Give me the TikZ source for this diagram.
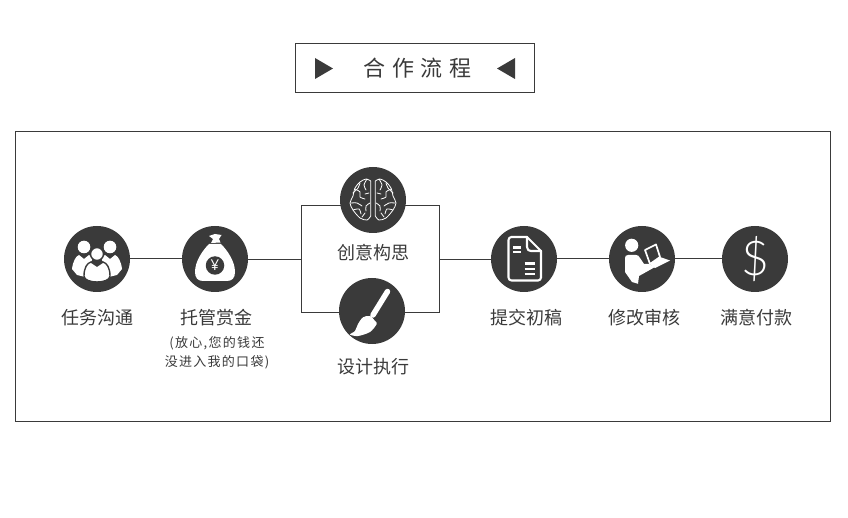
\documentclass[tikz,border=0pt]{standalone}
\usepackage{fontspec}
\setmainfont{Noto Sans CJK SC}
\newfontfamily\titlefont[LetterSpace=30]{Noto Sans CJK SC}
\newfontfamily\notefont[LetterSpace=10]{Noto Sans CJK SC}
\newfontfamily\signfont[UprightFont=* Light]{Lato}
\newfontfamily\yenfont{Open Sans}
\definecolor{ink}{HTML}{3A3A3A}
\tikzset{
  stepdot/.style={circle,fill=ink,minimum size=66pt,inner sep=0pt},
  steptext/.style={text=ink,font=\fontsize{18pt}{20pt}\selectfont,inner sep=0pt},
  notetext/.style={text=ink,font=\fontsize{13pt}{16pt}\selectfont\notefont,inner sep=0pt},
  whitefill/.style={fill=white,draw=none},
  whiteline/.style={draw=white,fill=none,line width=0.8pt,line cap=round,line join=round},
  wideline/.style={draw=white,fill=none,line width=2.1pt,line cap=round,line join=round},
  frameline/.style={draw=ink,line width=1pt}
}
\begin{document}
\begin{tikzpicture}[x=1pt,y=-1pt]
  \useasboundingbox (0,0) rectangle (848,518);
  % frames
  \node[frameline,minimum width=239pt,minimum height=49pt,inner sep=0pt,text=ink,
        font=\fontsize{22pt}{24pt}\selectfont\titlefont] (title) at (415,68) {\hspace{5pt}合作流程};
  \fill[ink] (315,58) -- (333,68.5) -- (315,79) -- cycle;
  \fill[ink] (515,58) -- (497,68.5) -- (515,79) -- cycle;
  \draw[frameline] (15.5,131.5) rectangle (830.5,421.5);
  \coordinate (idealeft) at (301.5,205.5);
  \coordinate (execright) at (439.5,312.5);
  \coordinate (forkleft) at (301.5,259.5);
  \coordinate (forkright) at (439.5,259.5);
  \draw[frameline] (idealeft) rectangle (execright);
  % steps
  \node[stepdot] (task) at (97,259) {};
  \node[stepdot] (escrow) at (215,259) {};
  \node[stepdot] (idea) at (373,200) {};
  \node[stepdot] (exec) at (372,311) {};
  \node[stepdot] (draft) at (524,259) {};
  \node[stepdot] (review) at (642,259) {};
  \node[stepdot] (pay) at (755,259) {};
  \draw[frameline] (task) -- (escrow);
  \draw[frameline] (escrow.east |- forkleft) -- (forkleft);
  \draw[frameline] (forkright) -- (draft.west |- forkright);
  \draw[frameline] (draft) -- (review);
  \draw[frameline] (review) -- (pay);
  % labels
  \node[steptext] (tasklabel) at (97,318) {任务沟通};
  \node[steptext] (escrowlabel) at (216,318) {托管赏金};
  \node[notetext] (noteone) at (217,343) {(放心,您的钱还};
  \node[notetext] (notetwo) at (217,362) {没进入我的口袋)};
  \node[steptext] (idealabel) at (373,253) {创意构思};
  \node[steptext] (execlabel) at (373,367) {设计执行};
  \node[steptext] (draftlabel) at (526,318) {提交初稿};
  \node[steptext] (reviewlabel) at (644,318) {修改审核};
  \node[steptext] (paylabel) at (756,318) {满意付款};
  % people
  \begin{scope}[shift={(task)}]
    \fill[whitefill] (-13,-12) circle[radius=6.3];
    \fill[whitefill] (13,-12) circle[radius=6.3];
    \fill[whitefill] (-25,10) .. controls (-24,2) and (-21,-3) .. (-18,-4) -- (-13,0) -- (-8,-4)
      .. controls (-5,-2) and (-3,0) .. (-7,4) .. controls (-11,8) and (-12,12) .. (-12,18) -- (-20,16) -- cycle;
    \fill[whitefill] (25,10) .. controls (24,2) and (21,-3) .. (18,-4) -- (13,0) -- (8,-4)
      .. controls (5,-2) and (3,0) .. (7,4) .. controls (11,8) and (12,12) .. (12,18) -- (20,16) -- cycle;
    \filldraw[fill=white,draw=ink,line width=1.4pt] (0,-5) circle[radius=6.5];
    \filldraw[fill=white,draw=ink,line width=1.4pt] (-13,17) .. controls (-13,9) and (-10,4) .. (-6,3) -- (0,7) -- (6,3)
      .. controls (10,4) and (13,9) .. (13,17) .. controls (13,25) and (-13,25) .. (-13,17) -- cycle;
  \end{scope}
  % money bag
  \begin{scope}[shift={(escrow)}]
    \fill[whitefill] (-6,-23) -- (0,-25) -- (6.5,-24) -- (4,-20) -- (5.5,-16.5) -- (-4,-16) -- (-2,-20) -- cycle;
    \fill[whitefill] (-6,-15) -- (6,-15) .. controls (12,-9) and (20,2) .. (20,13)
      .. controls (20,19) and (17,22) .. (12,22) -- (-12,22) .. controls (-17,22) and (-20,19) .. (-20,13)
      .. controls (-20,2) and (-12,-9) .. (-6,-15) -- cycle;
    \node[circle,fill=ink,minimum size=18.5pt,inner sep=0pt,text=white,
          font=\fontsize{15pt}{16pt}\selectfont\yenfont] (yen) at (0,6.5) {¥};
  \end{scope}
  % brain
  \begin{scope}[shift={(idea)}]
    \foreach \side in {1,-1}{
      \begin{scope}[xscale=\side]
        \draw[whiteline] (2.3,16) -- (2.3,-19) plot[smooth] coordinates {(2.3,-19) (7,-21) (13,-18) (18,-12) (20,-4) (23,3) (20,10) (13,18) (6,20) (2.3,16)};
        \draw[whiteline] plot[smooth] coordinates {(6,-21) (9,-15) (7,-10)};
        \draw[whiteline] plot[smooth] coordinates {(18,-11) (13,-8) (13,-3) (8,-1)};
        \draw[whiteline] plot[smooth] coordinates {(22,3) (16,3) (11,6)};
        \draw[whiteline] plot[smooth] coordinates {(20,10) (14,9) (12,14)};
        \draw[whiteline] plot[smooth] coordinates {(3,3) (7,6) (7,11)};
        \draw[whiteline] plot[smooth] coordinates {(4,-7) (8,-6)};
        \draw[whiteline] plot[smooth] coordinates {(13,-17) (15,-12) (20,-7)};
        \draw[whiteline] plot[smooth] coordinates {(8,13) (11,17)};
      \end{scope}
    }
  \end{scope}
  % brush
  \begin{scope}[shift={(exec)}]
    \fill[whitefill] plot[smooth cycle] coordinates {(-2,5) (3,10) (4.7,13) (-2,21) (-14,25) (-22,23.5) (-17,20) (-14,13) (-9,6.3)};
    \draw[white,line width=5.5pt,line cap=round] (15.5,-19.5) -- (1,4);
  \end{scope}
  % document
  \begin{scope}[shift={(draft)}]
    \draw[wideline,rounded corners=3pt] (3,-22) -- (-15.5,-22) -- (-15.5,21.5) -- (17,21.5) -- (17,-8);
    \draw[wideline] (3,-22) -- (17,-8);
    \draw[wideline] (3,-22) -- (3,-12) .. controls (3,-9) and (5,-8) .. (7,-8) -- (17,-8);
    \foreach \lineY in {-11.5,-7}
      \draw[wideline,line cap=butt] (-11,\lineY) -- (-3,\lineY);
    \foreach \lineY in {4.5,9.7,15.3}
      \draw[wideline,line cap=butt] (0.5,\lineY) -- (11,\lineY);
  \end{scope}
  % reader
  \begin{scope}[shift={(review)}]
    \fill[whitefill] (-10.3,-13.7) circle[radius=6.6];
    \fill[whitefill] (-17,-1) .. controls (-17,-3) and (-16,-4) .. (-14,-4) -- (-6,-4)
      .. controls (-4,-4) and (-3,-3) .. (-2,-1) -- (2,5) -- (7,5) -- (13,8) -- (-3,17) -- (-4,24.8)
      -- (-10,23) -- (-17,13) -- cycle;
    \draw[white,line width=1.7pt,line join=round] (3,-9) -- (14,-14.5) -- (18,-2) -- (8,5) -- cycle;
    \fill[whitefill] (18,-2) -- (28,1.5) -- (13,9) -- (8,5) -- cycle;
  \end{scope}
  % dollar
  \node[text=white,inner sep=0pt,font=\fontsize{48pt}{50pt}\selectfont\signfont] (dollar) at (pay) {\$};
\end{tikzpicture}
\end{document}
